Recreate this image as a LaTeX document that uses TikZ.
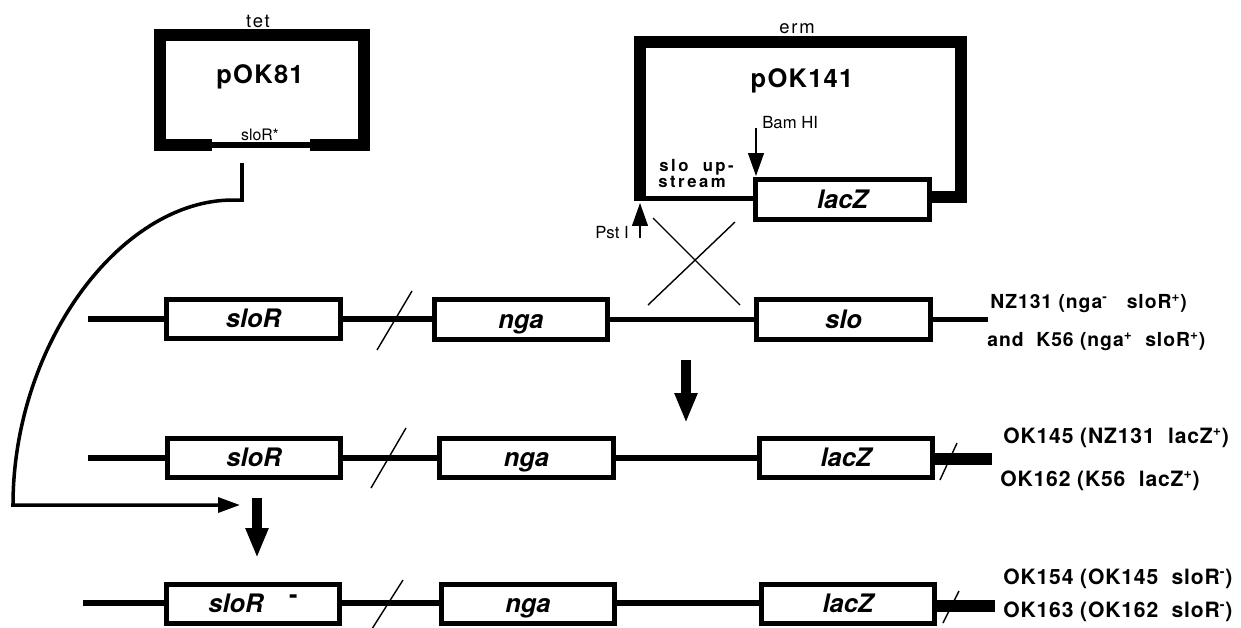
\documentclass[tikz,border=0pt]{standalone}
\usepackage{fontspec}
\setmainfont{TeX Gyre Heros}
\usetikzlibrary{arrows.meta}
\begin{document}
\begin{tikzpicture}[x=0.02cm,y=-0.02cm,
  gene/.style={draw, line width=3pt, minimum width=3.47cm, minimum height=0.79cm, inner sep=0pt,
    text height=10pt, text depth=0pt, font=\fontsize{14.5}{16}\selectfont\bfseries\itshape},
  chrom/.style={line width=3pt},
  plas/.style={line width=6.8pt, line join=miter},
  endthick/.style={line width=6.8pt},
  slash/.style={line width=0.8pt},
  site/.style={line width=0.8pt, -{Triangle[length=13pt,width=9pt]}},
  bigarrow/.style={line width=5.7pt, -{Triangle[length=17pt,width=12pt]}},
  small/.style={font=\fontsize{9.5}{11}\selectfont, inner sep=0pt, anchor=base},
  tag/.style={font=\fontsize{10.5}{12}\selectfont\addfontfeature{LetterSpace=10}, inner sep=0pt, anchor=base},
  title/.style={font=\fontsize{14.5}{16}\selectfont\bfseries\addfontfeature{LetterSpace=5}, inner sep=0pt, anchor=base},
  upstr/.style={font=\fontsize{9.5}{11}\selectfont\bfseries\addfontfeature{LetterSpace=15}, inner sep=0pt, anchor=base west},
  strainA/.style={font=\fontsize{11}{13}\selectfont\bfseries\addfontfeature{LetterSpace=5}, inner sep=0pt, anchor=base west},
  strainB/.style={font=\fontsize{12}{14}\selectfont\bfseries\addfontfeature{LetterSpace=4}, inner sep=0pt, anchor=base west},
]
\useasboundingbox (0,0) rectangle (1241,627);

% ---- pOK81 ----
\draw[plas] (212,145) -- (160,145) -- (160,35) -- (364,35) -- (364,145) -- (310,145);
\draw[chrom] (212,145) -- (310,145);
\node[tag] (tet) at (258,27) {tet};
\node[title] (p81) at (260,83) {pOK81};
\node[small, font=\fontsize{9}{10}\selectfont] (slorstar) at (260,140) {sloR*};

% ---- pOK141 ----
\node[gene] (lz0) at (842.5,199.5) {lacZ};
\draw[plas] (lz0.east |- 0,197) -- (961,197) -- (961,42) -- (640,42) -- (640,201);
\coordinate (pstpt) at (640,198.5);
\draw[chrom] (pstpt) -- (lz0.west |- pstpt);
\node[tag] (erm) at (797,33) {erm};
\node[title] (p141) at (802,87) {pOK141};
\node[small, anchor=base west] (bam) at (762,128) {Bam HI};
\node[upstr] (up1) at (659,171) {slo\ \ up-};
\node[upstr] (up2) at (658,187) {stream};
\node[small, anchor=base east] (pst) at (629,238) {Pst I};
\coordinate (bam0) at (756,128);
\coordinate (bam1) at (756,176);
\draw[site] (bam0) -- (bam1);
\coordinate (pst0) at (640,238);
\coordinate (pst1) at (640,203);
\draw[site] (pst0) -- (pst1);

% crossover
\coordinate (xa) at (653,218); \coordinate (xb) at (740,305);
\coordinate (xc) at (735,222); \coordinate (xd) at (648,305);
\draw[slash] (xa) -- (xb);
\draw[slash] (xc) -- (xd);

% ---- row 1 ----
\node[gene] (r1s) at (253.5,319) {sloR};
\node[gene] (r1n) at (521,319.5) {nga};
\node[gene] (r1o) at (843.5,319.5) {slo};
\coordinate (r1L) at (88,319);
\coordinate (r1R) at (988,319.5);
\draw[chrom] (r1L) -- (r1s.west);
\draw[chrom] (r1s.east) -- (r1n.west |- r1s.east);
\draw[chrom] (r1n.east) -- (r1o.west);
\draw[chrom] (r1o.east) -- (r1R);
\draw[slash] (412,291) -- (377,350);
\node[strainA] (l1) at (990,308) {NZ131 (nga\textsuperscript{-}\ \ \ sloR\textsuperscript{+})};
\node[strainA] (l2) at (987,346) {and\ \ K56 (nga\textsuperscript{+}\ \ sloR\textsuperscript{+})};

% arrow 1
\coordinate (a1s) at (686,360);
\coordinate (a1e) at (686,423);
\draw[bigarrow] (a1s) -- (a1e);

% ---- row 2 ----
\node[gene] (r2s) at (254,458) {sloR};
\node[gene] (r2n) at (526.5,458) {nga};
\node[gene] (r2z) at (846,458) {lacZ};
\coordinate (r2L) at (88,458);
\coordinate (r2R) at (992,459);
\draw[chrom] (r2L) -- (r2s.west);
\draw[chrom] (r2s.east) -- (r2n.west);
\draw[chrom] (r2n.east) -- (r2z.west);
\draw[endthick] (r2z.east |- r2R) -- (r2R);
\draw[slash] (406,428) -- (371,488);
\draw[slash] (957,443) -- (940,480);
\node[strainB] (l3) at (1003,443) {OK145 (NZ131\ \ lacZ\textsuperscript{+})};
\node[strainB] (l4) at (1000,486) {OK162 (K56\ \ lacZ\textsuperscript{+})};

% pOK81 transfer curve and arrow 2
\coordinate (c0) at (242,163);
\coordinate (c1) at (240,505);
\draw[line width=2pt, line join=miter, -{Triangle[length=12.5pt,width=8.5pt]}]
  (c0) -- (242,200) -- (233,200) .. controls (120,200) and (13,345) .. (13,505) -- (c1);
\coordinate (a2s) at (257,498);
\coordinate (a2e) at (257,558);
\draw[bigarrow] (a2s) -- (a2e);

% ---- row 3 ----
\node[gene] (r3s) at (253,604) {sloR\hspace{1.0em}\raisebox{0.35em}{\upshape -}};
\node[gene] (r3n) at (528,604) {nga};
\node[gene] (r3z) at (848,604) {lacZ};
\coordinate (r3L) at (83,603);
\coordinate (r3R) at (995,606);
\draw[chrom] (r3L) -- (r3s.west |- r3L);
\draw[chrom] (r3s.east |- r3L) -- (r3n.west |- r3L);
\draw[chrom] (r3n.east |- r3L) -- (r3z.west |- r3L);
\draw[endthick] (r3z.east |- r3R) -- (r3R);
\draw[slash] (403,580) -- (370,632);
\draw[slash] (959,591) -- (943,623);
\node[strainB] (l5) at (1003,584) {OK154 (OK145\ \ sloR\textsuperscript{-})};
\node[strainB] (l6) at (1003,617) {OK163 (OK162\ \ sloR\textsuperscript{-})};
\end{tikzpicture}
\end{document}
